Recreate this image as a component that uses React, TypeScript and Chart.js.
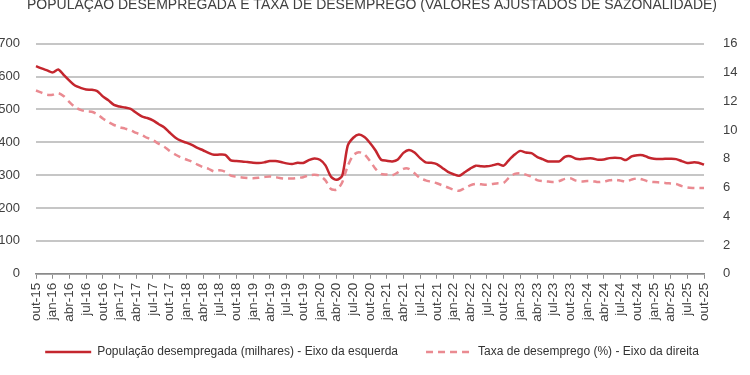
import React, { useEffect, useRef } from 'react';
import { Chart, registerables } from 'chart.js';

Chart.register(...registerables);

const TITLE = 'POPULAÇÃO DESEMPREGADA E TAXA DE DESEMPREGO (VALORES AJUSTADOS DE SAZONALIDADE)';
const SERIES_LABELS = [
  'População desempregada (milhares) - Eixo da esquerda',
  'Taxa de desemprego (%) - Eixo da direita',
];

const MONTHS_PT = ['jan', 'fev', 'mar', 'abr', 'mai', 'jun', 'jul', 'ago', 'set', 'out', 'nov', 'dez'];
// out-15 ... out-25 (monthly)
const categories: string[] = [];
for (let i = 0; i < 121; i++) {
  const m = (9 + i) % 12;
  const y = 15 + Math.floor((9 + i) / 12);
  categories.push(`${MONTHS_PT[m]}-${y}`);
}

// População desempregada (milhares), monthly from out-15
const populacao = [
  632, 625, 619, 613, 622, 605, 588, 573, 566, 561, 560, 556,
  540, 528, 514, 509, 506, 502, 490, 479, 474, 467, 456, 446,
  430, 415, 405, 399, 392, 383, 376, 368, 362, 363, 362, 345,
  343, 342, 340, 338, 337, 339, 343, 343, 340, 336, 334, 338,
  337, 346, 351, 347, 330, 295, 286, 298, 390, 414, 424, 416,
  398, 375, 347, 344, 342, 348, 368, 377, 369, 352, 339, 338,
  334, 322, 310, 303, 298, 309, 320, 329, 327, 327, 330, 334,
  329, 347, 363, 374, 369, 367, 356, 349, 342, 342, 342, 356,
  358, 350, 349, 351, 351, 347, 348, 352, 353, 352, 346, 357,
  361, 361, 354, 350, 349, 350, 350, 349, 343, 337, 339, 338,
  332,
];

// Taxa de desemprego (%), monthly from out-15
const taxa = [
  12.75, 12.6, 12.45, 12.45, 12.57, 12.35, 11.95, 11.6, 11.4, 11.3, 11.27, 11.1,
  10.8, 10.55, 10.35, 10.2, 10.1, 9.98, 9.8, 9.65, 9.45, 9.3, 9.05, 8.85,
  8.55, 8.3, 8.1, 7.95, 7.8, 7.6, 7.42, 7.3, 7.12, 7.2, 7.1, 6.82,
  6.75, 6.7, 6.67, 6.65, 6.68, 6.73, 6.77, 6.72, 6.65, 6.62, 6.63, 6.67,
  6.72, 6.85, 6.88, 6.82, 6.5, 5.9, 5.85, 6.35, 7.5, 8.25, 8.46, 8.3,
  7.85, 7.3, 6.95, 6.9, 6.85, 7.05, 7.3, 7.3, 7.0, 6.65, 6.5, 6.4,
  6.3, 6.15, 6.0, 5.85, 5.77, 5.95, 6.15, 6.25, 6.22, 6.2, 6.25, 6.3,
  6.32, 6.7, 6.95, 7.0, 6.9, 6.75, 6.52, 6.45, 6.42, 6.38, 6.45, 6.6,
  6.65, 6.48, 6.42, 6.46, 6.45, 6.38, 6.42, 6.5, 6.54, 6.48, 6.42, 6.55,
  6.63, 6.55, 6.42, 6.38, 6.35, 6.32, 6.28, 6.24, 6.1, 6.0, 5.97, 5.96,
  5.96,
];

const FONT = '"Liberation Sans", Arial, sans-serif';
const TEXT = '#404040';
const RED = '#c4262e';
const PINK = '#ea8a91';

export default function App() {
  const ref = useRef<HTMLCanvasElement | null>(null);

  useEffect(() => {
    if (!ref.current) return;
    const chart = new Chart(ref.current, {
      type: 'line',
      data: {
        labels: categories,
        datasets: [
          {
            label: SERIES_LABELS[0],
            data: populacao,
            yAxisID: 'y',
            borderColor: RED,
            backgroundColor: RED,
            borderWidth: 2.5,
            pointRadius: 0,
            tension: 0.25,
          },
          {
            label: SERIES_LABELS[1],
            data: taxa,
            yAxisID: 'y1',
            borderColor: PINK,
            backgroundColor: PINK,
            borderWidth: 2.5,
            borderDash: [7, 5],
            pointRadius: 0,
            tension: 0.25,
          },
        ],
      },
      options: {
        animation: false,
        responsive: true,
        maintainAspectRatio: false,
        layout: { padding: { top: 0, bottom: 7, left: 0, right: 0 } },
        plugins: {
          title: {
            display: true,
            text: TITLE,
            color: TEXT,
            font: { family: FONT, size: 14, weight: 'normal' },
            padding: { top: 1, bottom: 30 },
          },
          legend: {
            position: 'bottom',
            labels: {
              usePointStyle: true,
              pointStyleWidth: 46,
              padding: 28,
              color: '#333',
              font: { family: FONT, size: 12 },
              generateLabels: (c: any) =>
                c.data.datasets.map((ds: any, i: number) => ({
                  text: ds.label,
                  strokeStyle: ds.borderColor,
                  fillStyle: ds.borderColor,
                  lineWidth: 2.5,
                  lineDash: ds.borderDash || [],
                  pointStyle: 'line',
                  hidden: false,
                  datasetIndex: i,
                  fontColor: '#333',
                })),
            },
          },
          tooltip: { enabled: false },
        },
        scales: {
          x: {
            grid: { drawOnChartArea: false, tickLength: 5, color: '#8a8a8a', lineWidth: 1 },
            border: { color: '#8a8a8a', width: 1.5 },
            ticks: {
              autoSkip: false,
              maxRotation: 90,
              minRotation: 90,
              padding: 4,
              color: TEXT,
              font: { family: FONT, size: 13.5 },
              callback: function (this: any, val: any, idx: number) {
                return idx % 3 === 0 ? this.getLabelForValue(val) : null;
              },
            },
            afterFit: (s: any) => {
              s.height = 44.25;
              // let the rotated labels extend below the (short) axis box
              s._computeLabelArea = () => undefined;
            },
          },
          y: {
            position: 'left',
            min: 0,
            max: 700,
            ticks: { stepSize: 100, padding: 16, color: TEXT, font: { family: FONT, size: 13 } },
            grid: { color: '#c6c6c6', lineWidth: 2, drawTicks: false },
            border: { display: false },
            afterFit: (s: any) => {
              s.width = 42;
            },
          },
          y1: {
            position: 'right',
            min: 0,
            max: 16,
            ticks: { stepSize: 2, padding: 19, color: TEXT, font: { family: FONT, size: 13 } },
            grid: { drawOnChartArea: false, drawTicks: false },
            border: { display: false },
            afterFit: (s: any) => {
              s.width = 46;
            },
          },
        },
      },
    });
    return () => chart.destroy();
  }, []);

  return (
    <div style={{ position: 'absolute', left: -6, top: -4, width: 756, height: 379 }}>
      <canvas ref={ref} />
    </div>
  );
}
